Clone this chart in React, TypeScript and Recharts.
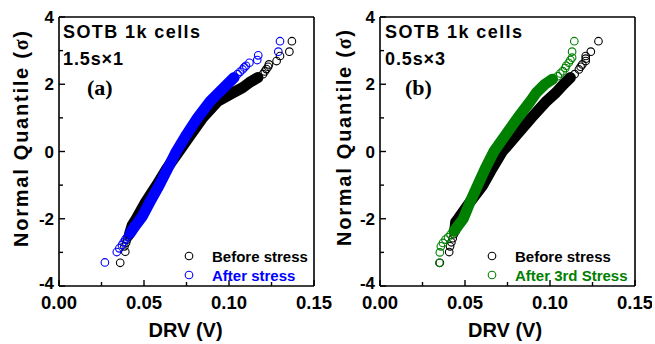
import { ScatterChart, Scatter, XAxis, YAxis } from 'recharts'

// DRV (V), normal quantile (sigma) pairs
const beforeA_low = [[0.036, -3.31], [0.039, -2.98], [0.0385, -2.82], [0.0395, -2.71], [0.04, -2.62], [0.041, -2.54]]
const beforeA_band = [[0.0415, -2.45], [0.043, -2.2], [0.0455, -2.0], [0.051, -1.5], [0.0575, -1.0], [0.0635, -0.5], [0.0705, 0], [0.0775, 0.5], [0.0845, 1.0], [0.0935, 1.5], [0.1025, 1.75], [0.108, 1.9], [0.112, 2.05], [0.117, 2.2]]
const beforeA_high = [[0.12, 2.3], [0.121, 2.38], [0.122, 2.45], [0.123, 2.52], [0.1235, 2.59], [0.128, 2.69], [0.13, 2.84], [0.1355, 2.97], [0.137, 3.28]]

const afterA_low = [[0.027, -3.3], [0.034, -2.99], [0.0355, -2.88], [0.037, -2.78], [0.038, -2.7], [0.039, -2.62], [0.04, -2.55], [0.041, -2.49]]
const afterA_band = [[0.042, -2.42], [0.045, -2.2], [0.049, -1.93], [0.0535, -1.5], [0.059, -1.0], [0.064, -0.5], [0.069, 0], [0.075, 0.5], [0.0815, 1.0], [0.089, 1.5], [0.094, 1.75], [0.099, 2.0], [0.103, 2.2]]
const afterA_high = [[0.105, 2.3], [0.1065, 2.37], [0.108, 2.44], [0.109, 2.5], [0.11, 2.55], [0.112, 2.64], [0.1166, 2.72], [0.1172, 2.86], [0.129, 2.97], [0.13, 3.28]]

const beforeB_low = [[0.0352, -3.31], [0.0407, -2.99], [0.0412, -2.82], [0.042, -2.7], [0.0428, -2.58], [0.0435, -2.46]]
const beforeB_band = [[0.044, -2.35], [0.0445, -2.1], [0.046, -2.0], [0.053, -1.5], [0.0605, -1.0], [0.066, -0.5], [0.072, 0], [0.0805, 0.5], [0.089, 1.0], [0.098, 1.5], [0.1035, 1.75], [0.108, 2.0], [0.112, 2.2]]
const beforeB_high = [[0.1145, 2.3], [0.117, 2.44], [0.118, 2.52], [0.119, 2.59], [0.121, 2.69], [0.121, 2.76], [0.121, 2.84], [0.124, 2.97], [0.1285, 3.28]]

const afterB_low = [[0.0349, -3.31], [0.0352, -3.0], [0.0358, -2.82], [0.037, -2.72], [0.0385, -2.62], [0.04, -2.55], [0.0415, -2.47]]
const afterB_band = [[0.0435, -2.37], [0.046, -2.2], [0.049, -2.0], [0.053, -1.5], [0.0575, -1.0], [0.062, -0.5], [0.067, 0], [0.074, 0.5], [0.081, 1.0], [0.0885, 1.5], [0.092, 1.75], [0.097, 2.0], [0.1015, 2.15]]
const afterB_high = [[0.1046, 2.24], [0.106, 2.32], [0.1075, 2.39], [0.109, 2.48], [0.1095, 2.55], [0.111, 2.64], [0.112, 2.72], [0.113, 2.79], [0.113, 2.97], [0.1143, 3.28]]

const xTicks = [0, 0.025, 0.05, 0.075, 0.1, 0.125, 0.15]
const xMajor = [0, 0.05, 0.1, 0.15]
const yTicks = [-4, -3, -2, -1, 0, 1, 2, 3, 4]
const yMajor = [-4, -2, 0, 2, 4]

const FONT = '"Liberation Sans", Arial, sans-serif'
const BLUE = '#0000ff'
const GREEN = '#008000'

const pts = (a: number[][]) => a.map(([v, q]) => ({ v, q }))

const ring = (color: string) => (p: any) => (
  <circle cx={p.cx} cy={p.cy} r={3.8} fill="none" stroke={color} strokeWidth={1.1} />
)

const isMajor = (list: number[], v: number) => list.some((m) => Math.abs(m - v) < 1e-9)

function makeTick(side: string, majors: number[], showLabel: boolean) {
  return (p: any) => {
    const v = p.payload.value
    const major = isMajor(majors, v)
    const len = major ? 6 : 4
    let x2 = p.x
    let y2 = p.y
    if (side === 'bottom') y2 = p.y - len
    if (side === 'top') y2 = p.y + len
    if (side === 'left') x2 = p.x + len
    if (side === 'right') x2 = p.x - len
    return (
      <g>
        <line x1={p.x} y1={p.y} x2={x2} y2={y2} stroke="#000" strokeWidth={1.4} />
        {showLabel && major && side === 'bottom' && (
          <text x={p.x} y={p.y + 23} textAnchor="middle" fontFamily={FONT} fontWeight="bold" fontSize={18.5} fill="#000">
            {v.toFixed(2)}
          </text>
        )}
        {showLabel && major && side === 'left' && (
          <text x={p.x - 5} y={p.y + (v === -4 ? 3 : 6)} textAnchor="end" fontFamily={FONT} fontWeight="bold" fontSize={17} fill="#000">
            {String(v)}
          </text>
        )}
      </g>
    )
  }
}

const axisLine = { stroke: '#000', strokeWidth: 1.6 }

function Panel({ before, after, color, rightW }: any) {
  return (
    <ScatterChart width={59 + 255 + rightW} height={344} margin={{ top: 0, right: 0, bottom: 0, left: 0 }}>
      <XAxis xAxisId="b" dataKey="v" type="number" domain={[0, 0.15]} ticks={xTicks} interval={0} height={58}
        tickSize={0} tickMargin={0} tickLine={false} axisLine={axisLine} tick={makeTick('bottom', xMajor, true)} />
      <XAxis xAxisId="t" orientation="top" dataKey="v" type="number" domain={[0, 0.15]} ticks={xTicks} interval={0} height={17}
        tickSize={0} tickMargin={0} tickLine={false} axisLine={axisLine} tick={makeTick('top', xMajor, false)} />
      <YAxis yAxisId="l" dataKey="q" type="number" domain={[-4, 4]} ticks={yTicks} interval={0} width={59}
        tickSize={0} tickMargin={0} tickLine={false} axisLine={axisLine} tick={makeTick('left', yMajor, true)} />
      <YAxis yAxisId="r" orientation="right" dataKey="q" type="number" domain={[-4, 4]} ticks={yTicks} interval={0} width={rightW}
        tickSize={0} tickMargin={0} tickLine={false} axisLine={axisLine} tick={makeTick('right', yMajor, false)} />
      <Scatter xAxisId="b" yAxisId="l" data={pts(before[0])} shape={ring('#000')} isAnimationActive={false} />
      <Scatter xAxisId="b" yAxisId="l" data={pts(before[1])} shape={ring('#000')} isAnimationActive={false}
        line={{ stroke: '#000', strokeWidth: 11, strokeLinecap: 'round', strokeLinejoin: 'round' }} />
      <Scatter xAxisId="b" yAxisId="l" data={pts(before[2])} shape={ring('#000')} isAnimationActive={false} />
      <Scatter xAxisId="b" yAxisId="l" data={pts(after[1])} shape={ring(color)} isAnimationActive={false}
        line={{ stroke: color, strokeWidth: 11, strokeLinecap: 'round', strokeLinejoin: 'round' }} />
      <Scatter xAxisId="b" yAxisId="l" data={pts(after[0])} shape={ring(color)} isAnimationActive={false} />
      <Scatter xAxisId="b" yAxisId="l" data={pts(after[2])} shape={ring(color)} isAnimationActive={false} />
    </ScatterChart>
  )
}

function Labels() {
  const t = { fontFamily: FONT, fontWeight: 'bold' as const }
  const serif = '"Liberation Serif", "Times New Roman", serif'
  return (
    <svg width={655} height={344} style={{ position: 'absolute', left: 0, top: 0, pointerEvents: 'none' }}>
      {/* panel a */}
      <text x={63} y={38} fontSize={18} textLength={137} {...t}>SOTB 1k cells</text>
      <text x={63} y={65} fontSize={18} textLength={60} {...t}>1.5s×1</text>
      <text x={87} y={95} fontSize={22} fontFamily={serif} fontWeight="bold">(a)</text>
      <text x={185.5} y={337} fontSize={20} textAnchor="middle" {...t}>DRV (V)</text>
      <text transform="translate(28,139) rotate(-90)" fontSize={20} textAnchor="middle" textLength={216} {...t}>
        Normal Quantile (<tspan fontFamily={serif}>σ</tspan>)
      </text>
      <circle cx={189} cy={256} r={3.8} fill="none" stroke="#000" strokeWidth={1.1} />
      <text x={212} y={262} fontSize={15} {...t}>Before stress</text>
      <circle cx={189} cy={275} r={3.8} fill="none" stroke={BLUE} strokeWidth={1.1} />
      <text x={212} y={281} fontSize={15} fill={BLUE} {...t}>After stress</text>

      {/* panel b */}
      <text x={385} y={38} fontSize={18} textLength={137} {...t}>SOTB 1k cells</text>
      <text x={385} y={65} fontSize={18} textLength={60} {...t}>0.5s×3</text>
      <text x={405} y={95} fontSize={22} fontFamily={serif} fontWeight="bold">(b)</text>
      <text x={505} y={337} fontSize={20} textAnchor="middle" {...t}>DRV (V)</text>
      <text transform="translate(351,138) rotate(-90)" fontSize={20} textAnchor="middle" textLength={216} {...t}>
        Normal Quantile (<tspan fontFamily={serif}>σ</tspan>)
      </text>
      <circle cx={492} cy={256} r={3.8} fill="none" stroke="#000" strokeWidth={1.1} />
      <text x={515} y={262} fontSize={15} {...t}>Before stress</text>
      <circle cx={492} cy={275} r={3.8} fill="none" stroke={GREEN} strokeWidth={1.1} />
      <text x={515} y={281} fontSize={15} fill={GREEN} {...t}>After 3rd Stress</text>
    </svg>
  )
}

export default function App() {
  return (
    <div style={{ position: 'absolute', left: 0, top: 0, width: 655, height: 344, background: '#fff', overflow: 'hidden' }}>
      <div style={{ position: 'absolute', left: 0, top: 0 }}>
        <Panel before={[beforeA_low, beforeA_band, beforeA_high]} after={[afterA_low, afterA_band, afterA_high]} color={BLUE} rightW={20} />
      </div>
      <div style={{ position: 'absolute', left: 321, top: 0 }}>
        <Panel before={[beforeB_low, beforeB_band, beforeB_high]} after={[afterB_low, afterB_band, afterB_high]} color={GREEN} rightW={17} />
      </div>
      <Labels />
    </div>
  )
}
